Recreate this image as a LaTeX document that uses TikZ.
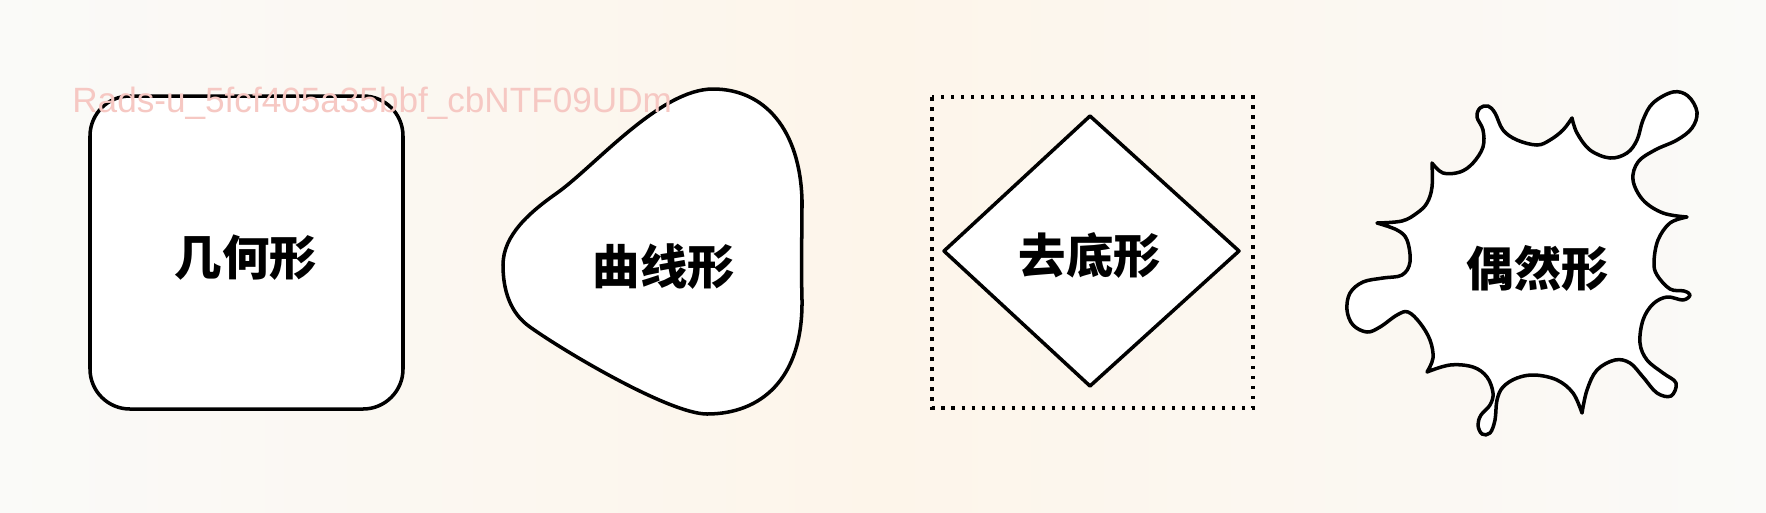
\documentclass[tikz,border=0pt]{standalone}
\usepackage{fontspec}
\setmainfont{Liberation Sans}
\newfontfamily\cjk{Noto Sans CJK SC}
\usetikzlibrary{positioning}
\definecolor{cream}{HTML}{FDF5EA}
\definecolor{paper}{HTML}{FAFAF8}
\definecolor{markpink}{HTML}{F6C8C3}
\begin{document}
\begin{tikzpicture}[x=0.02cm, y=-0.02cm,
    outline/.style={draw=black, line width=2pt, fill=white, line join=round},
    label/.style={font=\cjk\bfseries\fontsize{27pt}{27pt}\selectfont, text=black, inner sep=0pt},
    dotbox/.style={draw=black, line width=2pt, dash pattern=on 2pt off 3.7pt}]

    % Background
    \useasboundingbox (0,0) rectangle (1766,512);
    \shade[left color=paper, right color=paper, middle color=cream] (0,0) rectangle (1766,512);

    % Shapes
    \draw[outline, rounded corners=0.8cm] (90,96) rectangle (403,409);
    \draw[outline] (713,89) .. controls (765,89) and (800,130) .. (802,200)
        .. controls (802,240) and (801,260) .. (802,300)
        .. controls (803,380) and (760,414) .. (707,414)
        .. controls (670,414) and (565,352) .. (530,327)
        .. controls (510,313) and (503,290) .. (503,265)
        .. controls (503,235) and (530,212) .. (557,193)
        .. controls (595,166) and (660,89) .. (713,89) -- cycle;
    \draw[dotbox] (932,97) rectangle (1253,408);
    \draw[outline] (1090,116) -- (1239,251) -- (1090,386) -- (944,251) -- cycle;
    \draw[outline] (1432,163)
        -- plot[smooth, tension=0.6] coordinates {(1432,163) (1443,173) (1460,172) (1473,163) (1483,147) (1483,130) (1477,117) (1480,108) (1488,106) (1495,113) (1503,130) (1517,140) (1537,145) (1550,140) (1563,130) (1572,118)}
        -- plot[smooth, tension=0.6] coordinates {(1572,118) (1577,133) (1590,150) (1610,158) (1627,153) (1637,140) (1643,120) (1653,103) (1673,92) (1688,96) (1697,112) (1692,128) (1677,140) (1655,150) (1638,162) (1633,180) (1643,200) (1663,213) (1687,217)}
        -- plot[smooth, tension=0.6] coordinates {(1687,217) (1670,223) (1658,240) (1654,262) (1657,275) (1670,289) (1684,291) (1690,295) (1683,300) (1667,297) (1653,304) (1643,320) (1640,343) (1647,360) (1663,373) (1676,383) (1671,396) (1657,393) (1643,377) (1630,363) (1615,360) (1597,370) (1587,390) (1582,413)}
        -- plot[smooth, tension=0.6] coordinates {(1582,413) (1573,393) (1557,380) (1535,375) (1517,378) (1503,387) (1497,400) (1495,420) (1490,433) (1482,434) (1478,425) (1481,415) (1490,405) (1493,393) (1487,377) (1473,367) (1450,365) (1427,372)}
        -- plot[smooth, tension=0.6] coordinates {(1427,372) (1433,358) (1430,340) (1420,323) (1408,312) (1397,315) (1380,327) (1367,332) (1353,325) (1347,310) (1350,293) (1363,282) (1383,278) (1402,275) (1410,262) (1407,240) (1397,230) (1377,223)}
        -- plot[smooth, tension=0.6] coordinates {(1377,223) (1402,221) (1417,213) (1427,203) (1432,187) (1432,163)}
        -- cycle;

    % Labels
    \node[label] (geo) at (246,258) {几何形};
    \node[label] (curve) at (664,267) {曲线形};
    \node[label] (cut) at (1090,255) {去底形};
    \node[label] (chance) at (1538,268) {偶然形};

    % Watermark
    \node[font=\fontsize{20pt}{20pt}\selectfont, text=markpink, anchor=west, inner sep=0pt] (mark) at (72,103) {Rads-u\_5fcf405a35bbf\_cbNTF09UDm};

\end{tikzpicture}
\end{document}
